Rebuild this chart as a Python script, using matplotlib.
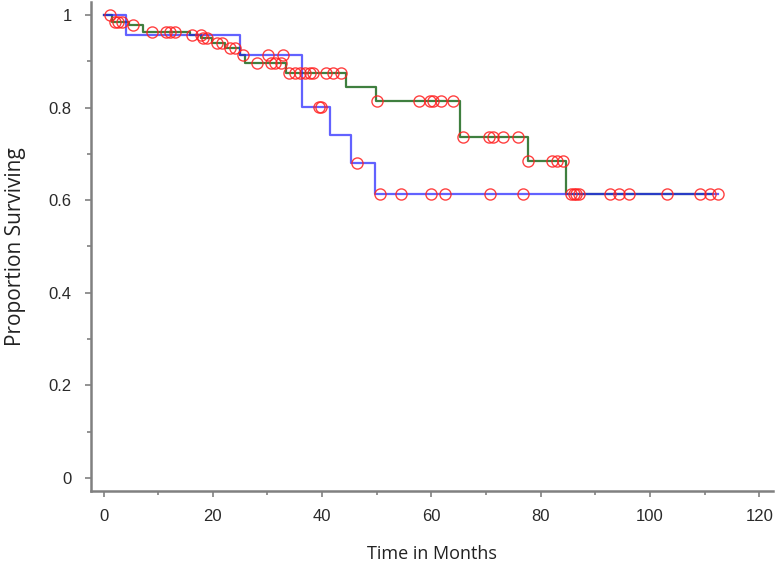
import numpy as np
import matplotlib.pyplot as plt

# Kaplan-Meier step data
blue_times = [0.0, 4.13, 24.95, 36.37, 41.42, 45.37, 49.61]
blue_surv = [1.0, 0.957, 0.914, 0.802, 0.741, 0.680, 0.613]
blue_end = 112.4
blue_censor = [17.9, 30.1, 32.8, 39.4, 39.8, 46.3, 50.5, 54.5, 59.9, 62.4,
               70.7, 76.8, 86.0, 87.0, 92.7, 94.4, 96.1, 103.1, 109.1, 110.9, 112.4]

green_times = [0.0, 1.6, 4.6, 7.2, 15.8, 17.8, 19.8, 22.3, 24.9, 25.9,
               33.4, 44.3, 49.8, 65.2, 77.6, 84.6]
green_surv = [1.0, 0.985, 0.978, 0.964, 0.957, 0.950, 0.940, 0.928, 0.914, 0.896,
              0.875, 0.844, 0.815, 0.737, 0.685, 0.613]
green_end = 111.3
green_censor = [1.1, 2.1, 2.7, 3.3, 5.4, 8.8, 11.5, 12.1, 13.0, 16.2, 18.2, 18.9,
                20.7, 21.6, 23.1, 24.0, 25.6, 28.0, 30.7, 31.3, 32.5, 34.0, 35.0,
                35.9, 36.8, 37.7, 38.3, 40.8, 41.9, 43.5, 50.1, 57.8, 59.7, 60.2,
                61.7, 63.9, 65.8, 70.6, 71.2, 73.1, 75.9, 77.6, 82.0, 82.9, 84.0,
                85.6, 86.5]


def surv_at(times, surv, t):
    idx = np.searchsorted(np.asarray(times), np.asarray(t), side='right') - 1
    return np.asarray(surv)[idx]


def step_line(ax, times, surv, t_end, color, **kw):
    x = list(times) + [t_end]
    y = list(surv) + [surv[-1]]
    ax.step(x, y, where='post', color=color, **kw)


fig = plt.figure(figsize=(7.79, 5.64), dpi=100)
# axes box: left spine x~90.5px, right ~773px, bottom ~490.5px, top ~2px
ax = fig.add_axes([90.5 / 779, (564 - 490.5) / 564, (773 - 90.5) / 779, (490.5 - 2) / 564])

step_line(ax, green_times, green_surv, green_end, '#3f7f3f', lw=1.6, zorder=2)
step_line(ax, blue_times, blue_surv, blue_end, '#2020ff', lw=1.6, alpha=0.7, zorder=3)

for times, surv, cens in [(green_times, green_surv, green_censor),
                          (blue_times, blue_surv, blue_censor)]:
    ax.plot(cens, surv_at(times, surv, cens), 'o', ms=8, mfc='none',
            mec='#ff2020', mew=1.0, alpha=0.85, zorder=4)

ax.set_xlim(-2.38, 122.5)
ax.set_ylim(-0.027, 1.028)
ax.set_xticks(np.arange(0, 121, 20))
ax.set_xticks(np.arange(10, 120, 20), minor=True)
ax.set_yticks(np.arange(0, 1.01, 0.2))
ax.set_yticks(np.arange(0.1, 1.0, 0.2), minor=True)
ax.set_yticklabels(['0', '0.2', '0.4', '0.6', '0.8', '1'])

for s in ['top', 'right']:
    ax.spines[s].set_visible(False)
for s in ['left', 'bottom']:
    ax.spines[s].set_color('#808080')
    ax.spines[s].set_linewidth(1.8)

ax.tick_params(which='both', direction='out', color='#808080', width=1.2)
ax.tick_params(which='major', length=4.5, labelsize=12, labelcolor='#2a2a2a', pad=9)
ax.tick_params(which='minor', length=3)
for lab in ax.get_xticklabels() + ax.get_yticklabels():
    lab.set_family('Liberation Sans')

ax.set_xlabel('Time in Months', fontsize=13, family='Open Sans', color='#222222', labelpad=15)
ax.set_ylabel('Proportion Surviving', fontsize=15, family='Open Sans', color='#222222', labelpad=16)

fig.savefig('out.png', dpi=100)
